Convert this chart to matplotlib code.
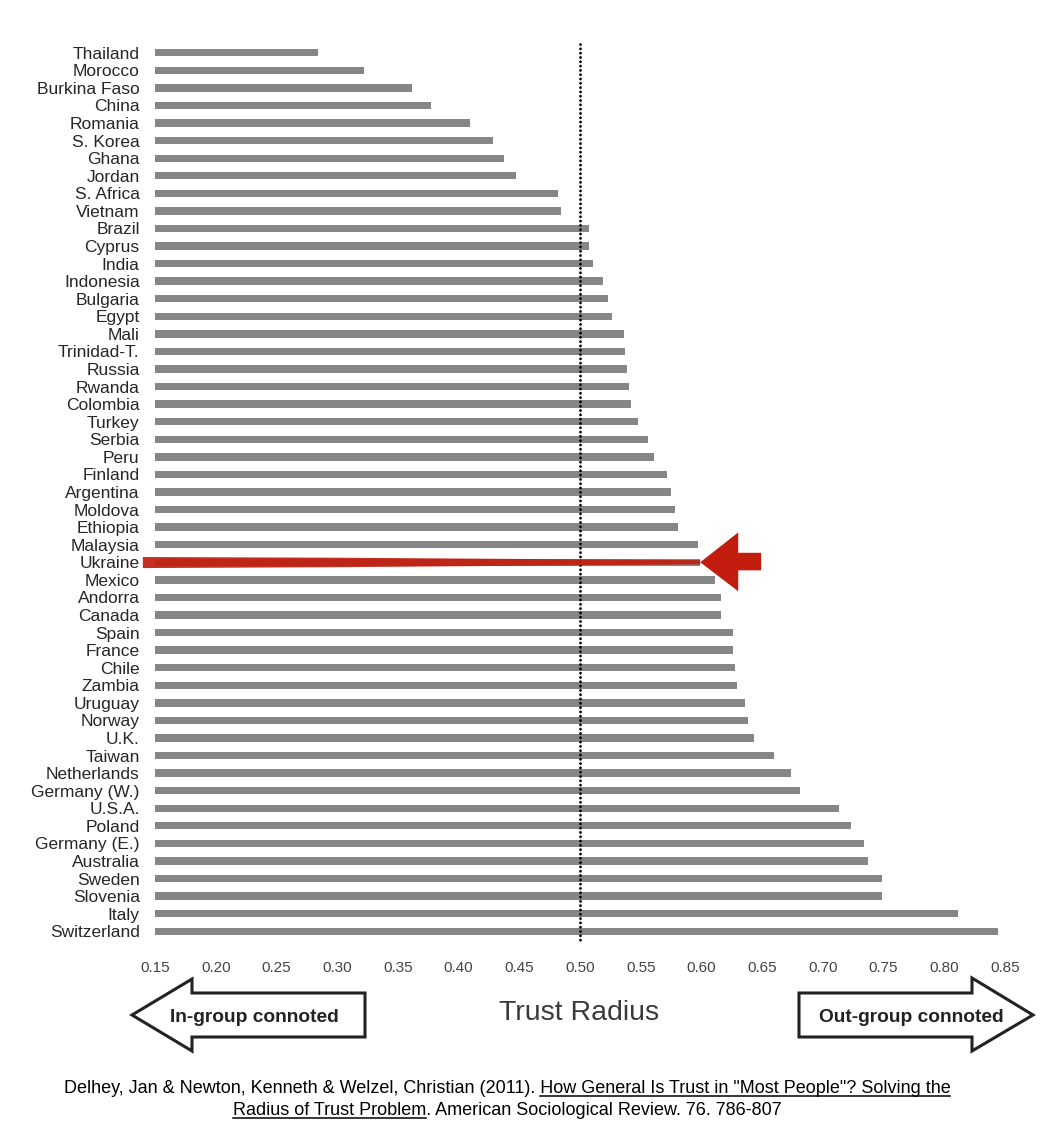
import matplotlib
matplotlib.use('Agg')
import matplotlib.pyplot as plt
from matplotlib.patches import Polygon
from matplotlib.lines import Line2D

# ---------------- data ----------------
countries = ['Thailand', 'Morocco', 'Burkina Faso', 'China', 'Romania', 'S. Korea', 'Ghana',
             'Jordan', 'S. Africa', 'Vietnam', 'Brazil', 'Cyprus', 'India', 'Indonesia',
             'Bulgaria', 'Egypt', 'Mali', 'Trinidad-T.', 'Russia', 'Rwanda', 'Colombia',
             'Turkey', 'Serbia', 'Peru', 'Finland', 'Argentina', 'Moldova', 'Ethiopia',
             'Malaysia', 'Ukraine', 'Mexico', 'Andorra', 'Canada', 'Spain', 'France', 'Chile',
             'Zambia', 'Uruguay', 'Norway', 'U.K.', 'Taiwan', 'Netherlands', 'Germany (W.)',
             'U.S.A.', 'Poland', 'Germany (E.)', 'Australia', 'Sweden', 'Slovenia', 'Italy',
             'Switzerland']
trust_radius = [0.284, 0.322, 0.362, 0.377, 0.409, 0.428, 0.437,
                0.447, 0.482, 0.484, 0.507, 0.507, 0.511, 0.519,
                0.523, 0.526, 0.536, 0.537, 0.539, 0.540, 0.542,
                0.548, 0.556, 0.561, 0.572, 0.575, 0.578, 0.581,
                0.597, 0.599, 0.611, 0.616, 0.616, 0.626, 0.626, 0.628,
                0.629, 0.636, 0.638, 0.643, 0.660, 0.674, 0.681,
                0.713, 0.723, 0.734, 0.737, 0.749, 0.749, 0.811,
                0.844]
xticks = [0.15, 0.20, 0.25, 0.30, 0.35, 0.40, 0.45, 0.50, 0.55, 0.60, 0.65, 0.70, 0.75, 0.80, 0.85]
xtick_labels = ['0.15', '0.20', '0.25', '0.30', '0.35', '0.40', '0.45', '0.50', '0.55', '0.60',
                '0.65', '0.70', '0.75', '0.80', '0.85']
midpoint = 0.50
highlight = 'Ukraine'
x_title = 'Trust Radius'
left_label = 'In-group connoted'
right_label = 'Out-group connoted'
cite_1a = 'Delhey, Jan & Newton, Kenneth & Welzel, Christian (2011). '
cite_1b = 'How General Is Trust in "Most People"? Solving the'
cite_2a = 'Radius of Trust Problem'
cite_2b = '. American Sociological Review. 76. 786-807'

# ---------------- figure ----------------
W, H = 1054, 1142
plt.rcParams['font.family'] = ['Liberation Sans', 'DejaVu Sans']
fig = plt.figure(figsize=(W / 100, H / 100), dpi=100)
fig.patch.set_facecolor('white')


def fx(px):
    return px / W


def fy(py):
    return 1 - py / H


xmin, xmax = 0.15, 0.85
ax = fig.add_axes([fx(155), fy(940), 850 / W, 896 / H])
ypos = list(range(len(countries)))
ax.barh(ypos, [v - xmin for v in trust_radius], left=xmin, height=0.42, color='#868686')
ax.set_xlim(xmin, xmax)
ax.set_ylim(len(countries) - 0.5, -0.5)
ax.set_yticks(ypos)
ax.set_yticklabels(countries, fontsize=12.5, color='#262626')
ax.set_xticks(xticks)
ax.set_xticklabels(xtick_labels, fontsize=11, color='#444444')
ax.tick_params(axis='y', length=0, pad=11)
ax.tick_params(axis='x', length=0, pad=15)
for s in ax.spines.values():
    s.set_visible(False)

# dotted midpoint line
ax.plot([midpoint, midpoint], [-0.5, len(countries) - 0.5], color='black', lw=2.0,
        linestyle=(0, (0.05, 1.5)), dash_capstyle='round', clip_on=False, zorder=3)

# red highlight on Ukraine
hi = countries.index(highlight)
hv = trust_radius[hi]
scribble = Polygon([(0.140, hi - 0.30), (0.30, hi - 0.26), (hv, hi - 0.12),
                    (hv, hi + 0.12), (0.30, hi + 0.28), (0.140, hi + 0.33)],
                   closed=True, facecolor='#C21D0E', edgecolor='none', alpha=0.92,
                   clip_on=False, zorder=4)
ax.add_patch(scribble)
arrow = Polygon([(hv, hi), (hv + 0.0313, hi - 1.70), (hv + 0.0313, hi - 0.54),
                 (hv + 0.0502, hi - 0.54), (hv + 0.0502, hi + 0.46),
                 (hv + 0.0313, hi + 0.46), (hv + 0.0313, hi + 1.65)],
                closed=True, facecolor='#C21D0E', edgecolor='none', clip_on=False, zorder=5)
ax.add_patch(arrow)

# axis title
fig.text(fx(579), fy(1013), x_title, fontsize=20.5, color='#3a3a3a', ha='center', va='center')

# outline arrows
left_pts = [(132, 1015), (192, 979), (192, 993), (365, 993), (365, 1037), (192, 1037), (192, 1051)]
right_pts = [(799, 993), (972, 993), (972, 978), (1033, 1015), (972, 1051), (972, 1037), (799, 1037)]
for pts in (left_pts, right_pts):
    fig.patches.append(Polygon([(fx(a), fy(b)) for a, b in pts], closed=True,
                               transform=fig.transFigure, facecolor='white',
                               edgecolor='#222222', lw=2.2, joinstyle='miter'))
fig.text(fx(254), fy(1018), left_label, fontsize=13.8, fontweight='bold', color='#222222',
         ha='center', va='center')
fig.text(fx(911), fy(1018), right_label, fontsize=13.8, fontweight='bold', color='#222222',
         ha='center', va='center')

# citation with underlines
renderer = fig.canvas.get_renderer()
cx = 507
cfs = 13
t1 = fig.text(fx(cx), fy(1093), cite_1a + cite_1b, fontsize=cfs, color='black',
              ha='center', va='baseline')
t2 = fig.text(fx(cx), fy(1115), cite_2a + cite_2b, fontsize=cfs, color='black',
              ha='center', va='baseline')
probe = fig.text(0, 0, cite_1b, fontsize=cfs)
probe2 = fig.text(0, 0, cite_2a, fontsize=cfs)
bb1 = t1.get_window_extent(renderer)
bb2 = t2.get_window_extent(renderer)
w1 = probe.get_window_extent(renderer).width
w2 = probe2.get_window_extent(renderer).width
probe.remove()
probe2.remove()
u1y = fy(1096)
u2y = fy(1118)
fig.lines.append(Line2D([(bb1.x1 - w1) / W, bb1.x1 / W], [u1y, u1y], color='black', lw=1.1,
                        transform=fig.transFigure))
fig.lines.append(Line2D([bb2.x0 / W, (bb2.x0 + w2) / W], [u2y, u2y], color='black', lw=1.1,
                        transform=fig.transFigure))

fig.savefig('out.png', dpi=100, facecolor='white')
